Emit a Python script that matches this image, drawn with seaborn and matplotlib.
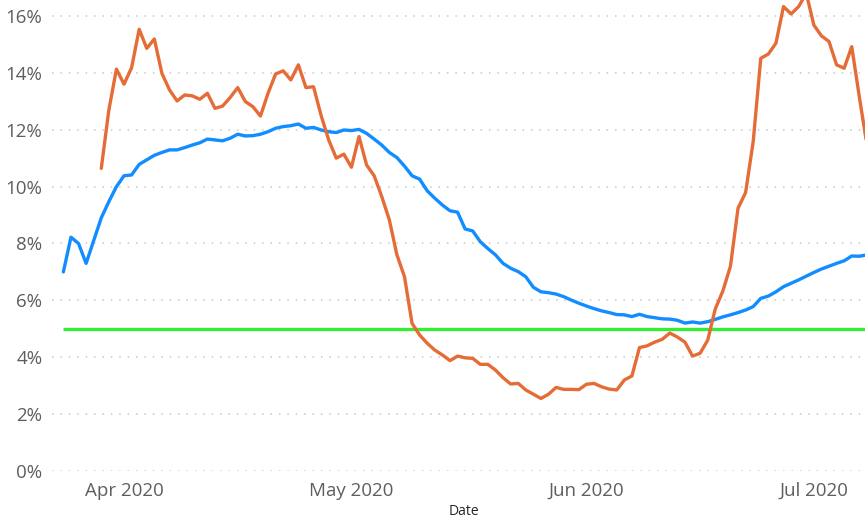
import numpy as np
import pandas as pd
import matplotlib
matplotlib.use('Agg')
import matplotlib.pyplot as plt
import matplotlib.dates as mdates
import seaborn as sns

# daily values (percent)
start_date = '2020-03-24'
n_days = 107

blue_pct = [
    7.0, 8.22, 8.0, 7.3, 8.1, 8.9, 9.47, 10.0, 10.38, 10.41,
    10.78, 10.94, 11.1, 11.2, 11.29, 11.29, 11.37, 11.46, 11.54, 11.67,
    11.64, 11.61, 11.7, 11.84, 11.78, 11.79, 11.84, 11.93, 12.05, 12.11,
    12.14, 12.2, 12.05, 12.08, 11.99, 11.93, 11.9, 11.99, 11.97, 12.01,
    11.87, 11.67, 11.46, 11.2, 11.02, 10.72, 10.38, 10.26, 9.85, 9.59,
    9.35, 9.15, 9.1, 8.51, 8.44, 8.06, 7.82, 7.6, 7.3, 7.13,
    7.01, 6.83, 6.46, 6.3, 6.27, 6.22, 6.13, 6.01, 5.9, 5.8,
    5.71, 5.63, 5.57, 5.5, 5.49, 5.43, 5.51, 5.43, 5.39, 5.35,
    5.34, 5.3, 5.2, 5.24, 5.2, 5.25, 5.33, 5.42, 5.49, 5.57,
    5.66, 5.78, 6.07, 6.15, 6.3, 6.48, 6.6, 6.72, 6.85, 6.98,
    7.1, 7.2, 7.3, 7.39, 7.56, 7.55, 7.6,
]

orange_pct = [
    np.nan, np.nan, np.nan, np.nan, np.nan,
    10.64, 12.69, 14.13, 13.6, 14.18, 15.53, 14.86, 15.19, 13.98, 13.4,
    13.01, 13.22, 13.19, 13.07, 13.28, 12.75, 12.83, 13.13, 13.48, 12.99,
    12.81, 12.48, 13.28, 13.96, 14.07, 13.75, 14.28, 13.48, 13.51, 12.5,
    11.64, 11.0, 11.14, 10.68, 11.76, 10.76, 10.38, 9.65, 8.83, 7.6,
    6.83, 5.19, 4.78, 4.49, 4.25, 4.08, 3.88, 4.04, 3.98, 3.96,
    3.75, 3.75, 3.55, 3.28, 3.06, 3.08, 2.85, 2.7, 2.55, 2.7,
    2.94, 2.87, 2.87, 2.86, 3.05, 3.08, 2.96, 2.88, 2.85, 3.2,
    3.34, 4.34, 4.4, 4.53, 4.63, 4.85, 4.71, 4.53, 4.04, 4.14,
    4.6, 5.7, 6.33, 7.2, 9.24, 9.79, 11.58, 14.51, 14.66, 15.04,
    16.33, 16.07, 16.33, 16.8, 15.68, 15.3, 15.1, 14.28, 14.16, 14.92,
    13.16, 11.47,
]

target_pct = 5.0
y_ticks = [0, 2, 4, 6, 8, 10, 12, 14, 16]

dates = pd.date_range(start_date, periods=n_days, freq='D')
df = pd.DataFrame({'Date': dates, 'blue': blue_pct, 'orange': orange_pct})

sns.set_theme(style='white')
plt.rcParams['font.family'] = ['Open Sans', 'DejaVu Sans']

fig = plt.figure(figsize=(8.65, 5.2), dpi=100)
ax = fig.add_axes([52 / 865, 49 / 520, 813 / 865, 471 / 520])

# dotted gridlines first so the lines sit on top
for v in y_ticks:
    ax.axhline(v, color='#c8c8c8', lw=1.1, ls=(0, (1, 4.5)), zorder=0)

ax.hlines(target_pct, dates[0], dates[-1], color='#33ee33', lw=2.4, zorder=2)
sns.lineplot(data=df, x='Date', y='blue', color='#118dff', lw=2.4,
             estimator=None, ax=ax, zorder=3)
sns.lineplot(data=df.dropna(), x='Date', y='orange', color='#e66c37', lw=2.4,
             estimator=None, ax=ax, zorder=4)

ax.set_ylim(0, 16.56)
ax.set_xlim(dates[0] - pd.Timedelta(hours=36), dates[0] + pd.Timedelta(days=105.75))
ax.set_yticks(y_ticks)
ax.set_yticklabels([f'{v}%' for v in y_ticks])
ax.xaxis.set_major_locator(mdates.MonthLocator())
ax.xaxis.set_major_formatter(mdates.DateFormatter('%b %Y'))

ax.tick_params(axis='both', length=0, labelsize=13.5, labelcolor='#605e5c')
ax.tick_params(axis='y', pad=7)
ax.tick_params(axis='x', pad=8)
ax.set_ylabel('')
ax.set_xlabel('Date', fontsize=10, color='#252423')
ax.xaxis.set_label_coords(0.507, -0.087)
ax.xaxis.label.set_va('center')
for s in ax.spines.values():
    s.set_visible(False)

fig.savefig('out.png', dpi=100)
